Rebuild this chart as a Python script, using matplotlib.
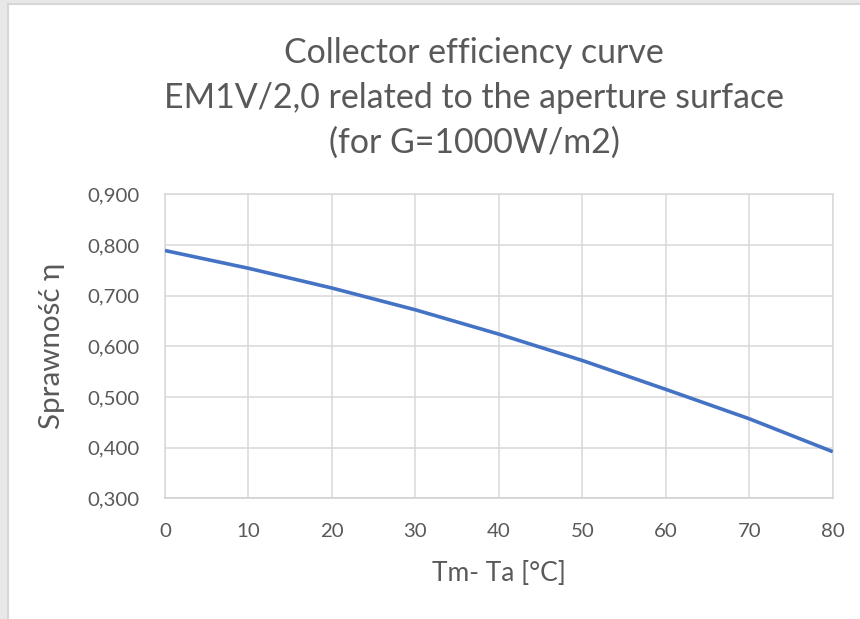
import matplotlib
matplotlib.use("Agg")
import matplotlib.pyplot as plt
from matplotlib.patches import Rectangle
from matplotlib.ticker import FixedLocator, FuncFormatter

# Data
temp_diff = [0, 10, 20, 30, 40, 50, 60, 70, 80]
efficiency = [0.789, 0.754, 0.715, 0.672, 0.624, 0.572, 0.515, 0.457, 0.392]
x_ticks = [0, 10, 20, 30, 40, 50, 60, 70, 80]
y_ticks = [0.3, 0.4, 0.5, 0.6, 0.7, 0.8, 0.9]

title_lines = ["Collector efficiency curve",
               "EM1V/2,0 related to the aperture surface",
               "(for G=1000W/m2)"]
xlabel_text = "Tm- Ta [°C]"
ylabel_text = "Sprawność η"

FONT = ['Lato', 'DejaVu Sans']
plt.rcParams['font.family'] = FONT
text_color = "#595959"
grid_color = "#d9d9d9"
line_color = "#4472C4"

W, H = 860, 619
fig = plt.figure(figsize=(W / 100, H / 100), dpi=100)
fig.patch.set_facecolor("#e8e8e8")
fig.add_artist(Rectangle((8 / W, -0.01), 1, 1 - 4 / H + 0.01, transform=fig.transFigure,
                         facecolor="white", edgecolor="#d6d6d6", lw=1.5, zorder=0))
renderer = fig.canvas.get_renderer()


def fit_size(text, target_px, start=15):
    t = fig.text(0, 0, text, fontsize=start)
    w = t.get_window_extent(renderer).width
    t.remove()
    return start * target_px / w


ax_l, ax_r, ax_t, ax_b = 165, 832.7, 194.3, 498.3
ax = fig.add_axes([ax_l / W, 1 - ax_b / H, (ax_r - ax_l) / W, (ax_b - ax_t) / H])
ax.set_facecolor("white")
ax.plot(temp_diff, efficiency, color=line_color, lw=2.6, solid_capstyle='butt', zorder=3)

ax.set_xlim(0, 80)
ax.set_ylim(0.3, 0.9)
ax.xaxis.set_major_locator(FixedLocator(x_ticks))
ax.yaxis.set_major_locator(FixedLocator(y_ticks))
ax.yaxis.set_major_formatter(FuncFormatter(lambda v, p: f"{v:.3f}".replace(".", ",")))
ax.grid(True, color=grid_color, lw=1.1, zorder=0)
ax.set_axisbelow(True)
for s in ax.spines.values():
    s.set_color(grid_color)
    s.set_linewidth(1.1)
ax.spines['bottom'].set_color("#d0d0d0")

tick_fs = fit_size("0,900", 52)
ax.tick_params(length=0, colors=text_color, labelsize=tick_fs)
ax.tick_params(axis='x', pad=17.5)
ax.tick_params(axis='y', pad=18)

xl_fs = fit_size(xlabel_text, 134)
ax.set_xlabel(xlabel_text, fontsize=xl_fs, color=text_color)
ax.xaxis.set_label_coords(((432 + 566) / 2 - ax_l) / (ax_r - ax_l), -(581 - ax_b) / (ax_b - ax_t))
ax.xaxis.label.set_verticalalignment('baseline')

yl_fs = fit_size(ylabel_text, 166)
ax.set_ylabel(ylabel_text, fontsize=yl_fs, color=text_color)
ax.yaxis.set_label_coords(-(ax_l - 60) / (ax_r - ax_l), 0.5)
ax.yaxis.label.set_verticalalignment('baseline')

title_fs = fit_size(title_lines[1], 621)
baselines = [63, 108, 153]
for line, yb in zip(title_lines, baselines):
    fig.text(474 / W, 1 - yb / H, line, ha='center', va='baseline', fontsize=title_fs,
             color=text_color)

fig.savefig("out.png", dpi=100, facecolor=fig.get_facecolor())
